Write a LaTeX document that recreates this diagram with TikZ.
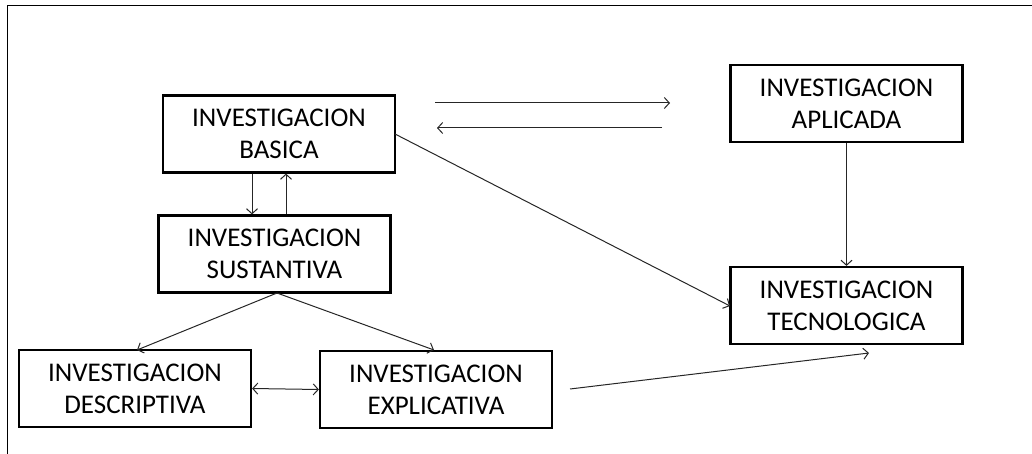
\documentclass[tikz,border=0pt]{standalone}
\usepackage{fontspec}
\setmainfont{Carlito}
\usetikzlibrary{arrows.meta}
\begin{document}
\begin{tikzpicture}[x=1pt,y=-1pt,
  box/.style={draw, line width=2.2pt, align=center, inner sep=0pt,
    font=\fontsize{27}{32}\selectfont, minimum width=232pt, minimum height=77pt},
  conn/.style={draw=black!85, line width=1pt, -{Straight Barb[length=5pt,width=11pt]}},
  conn2/.style={draw=black!85, line width=1pt, {Straight Barb[length=5pt,width=11pt]}-{Straight Barb[length=5pt,width=11pt]}},
  frame/.style={draw, line width=1pt}]
\useasboundingbox (0,0) rectangle (1032,454);
\draw[frame] (7,454) -- (7,6) -- (1032,6);

\node[box] (bas) at (279,134) {INVESTIGACION\\BASICA};
\node[box] (sus) at (274.5,254) {INVESTIGACION\\SUSTANTIVA};
\node[box] (apl) at (846.5,103.5) {INVESTIGACION\\APLICADA};
\node[box] (tec) at (846.5,305.5) {INVESTIGACION\\TECNOLOGICA};
\node[box] (exp) at (436,389.5) {INVESTIGACION\\EXPLICATIVA};
\node[box] (des) at (135,388.5) {INVESTIGACION\\DESCRIPTIVA};

\coordinate (x1) at (252,0);
\coordinate (x2) at (286,0);
\coordinate (h1a) at (435,103);
\coordinate (h1b) at (670,103);
\coordinate (h2a) at (662,128);
\coordinate (h2b) at (437,128);
\coordinate (bs) at (395,134);
\coordinate (tw) at (730,306);
\coordinate (split) at (277,293);
\coordinate (dtip) at (137,350);
\coordinate (etip) at (434,350);
\coordinate (es) at (570,389);
\coordinate (et) at (869,353);

\draw[conn] (bas.south -| x1) -- (sus.north -| x1);
\draw[conn] (sus.north -| x2) -- (bas.south -| x2);
\draw[conn] (h1a) -- (h1b);
\draw[conn] (h2a) -- (h2b);
\draw[conn] (bs) -- (tw);
\draw[conn] (apl.south) -- (tec.north);
\draw[conn] (split) -- (dtip);
\draw[conn] (split) -- (etip);
\draw[conn2] (des.east) -- (exp.west);
\draw[conn] (es) -- (et);
\end{tikzpicture}
\end{document}
